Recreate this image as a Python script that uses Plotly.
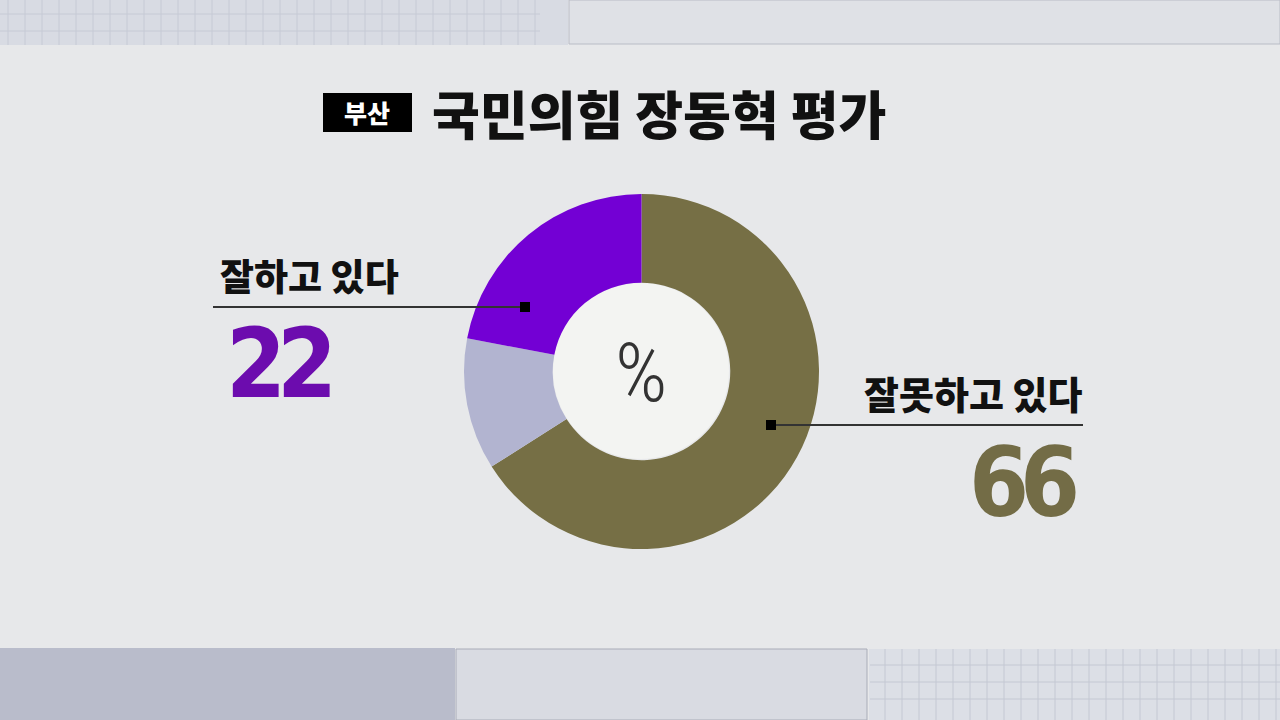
import plotly.graph_objects as go

# 부산 국민의힘 장동혁 평가 (%)
labels = ['잘못하고 있다', '모름/무응답', '잘하고 있다']
values = [66, 12, 22]
colors = ['#766f45', '#b2b4d0', '#7300d4']

W, H = 1280, 720


def px(x):
    return x / W


def py_(y):
    return 1 - y / H


fig = go.Figure()

fig.add_trace(go.Pie(
    labels=labels,
    values=values,
    marker=dict(colors=colors, line=dict(width=0)),
    hole=0.5,
    sort=False,
    direction='clockwise',
    rotation=0,
    textinfo='none',
    hoverinfo='label+value',
    showlegend=False,
    domain=dict(x=[px(464), px(819)], y=[py_(549), py_(194)]),
))

shapes = []
# paper strips top / bottom
shapes.append(dict(type='rect', xref='paper', yref='paper', x0=0, x1=px(568), y0=py_(45), y1=1,
                   fillcolor='#d8dbe3', line=dict(width=0), layer='below'))
shapes.append(dict(type='rect', xref='paper', yref='paper', x0=px(569), x1=1, y0=py_(44), y1=1,
                   fillcolor='#dfe1e6', line=dict(color='#b9bcc6', width=1), layer='below'))
shapes.append(dict(type='rect', xref='paper', yref='paper', x0=0, x1=px(455), y0=0, y1=py_(648),
                   fillcolor='#b9bccb', line=dict(width=0), layer='below'))
shapes.append(dict(type='rect', xref='paper', yref='paper', x0=px(456), x1=px(867), y0=0, y1=py_(649),
                   fillcolor='#d9dbe2', line=dict(color='#a9acb8', width=1), layer='below'))
shapes.append(dict(type='rect', xref='paper', yref='paper', x0=px(869), x1=1, y0=0, y1=py_(649),
                   fillcolor='#dcdfe6', line=dict(width=0), layer='below'))
# grid paper lines
for gx in range(8, 540, 17):
    shapes.append(dict(type='line', xref='paper', yref='paper', x0=px(gx), x1=px(gx), y0=py_(45), y1=1,
                       line=dict(color='#c6cad5', width=1), layer='below'))
for gy in [14, 31]:
    shapes.append(dict(type='line', xref='paper', yref='paper', x0=0, x1=px(540), y0=py_(gy), y1=py_(gy),
                       line=dict(color='#c6cad5', width=1), layer='below'))
for gx in range(885, 1280, 17):
    shapes.append(dict(type='line', xref='paper', yref='paper', x0=px(gx), x1=px(gx), y0=0, y1=py_(649),
                       line=dict(color='#c4c8d3', width=1), layer='below'))
for gy in [665, 682, 699]:
    shapes.append(dict(type='line', xref='paper', yref='paper', x0=px(870), x1=1, y0=py_(gy), y1=py_(gy),
                       line=dict(color='#c4c8d3', width=1), layer='below'))
# title box
shapes.append(dict(type='rect', xref='paper', yref='paper', x0=px(323), x1=px(412), y0=py_(132), y1=py_(93),
                   fillcolor='#000000', line=dict(width=0)))
# leader lines and markers
shapes.append(dict(type='line', xref='paper', yref='paper', x0=px(213), x1=px(525), y0=py_(307), y1=py_(307),
                   line=dict(color='#333333', width=2)))
shapes.append(dict(type='rect', xref='paper', yref='paper', x0=px(520), x1=px(530), y0=py_(312), y1=py_(302),
                   fillcolor='#000000', line=dict(width=0)))
shapes.append(dict(type='line', xref='paper', yref='paper', x0=px(771), x1=px(1083), y0=py_(425), y1=py_(425),
                   line=dict(color='#333333', width=2)))
shapes.append(dict(type='rect', xref='paper', yref='paper', x0=px(766), x1=px(776), y0=py_(430), y1=py_(420),
                   fillcolor='#000000', line=dict(width=0)))

kr = 'Noto Sans CJK KR Black, Noto Sans CJK KR'
num = 'DejaVu Sans Condensed, DejaVu Sans'
squeeze = '<span style="font-stretch:condensed;letter-spacing:-9px">{}</span>'

annotations = [
    dict(text='부산', x=px(367), y=py_(112), font=dict(family=kr, size=25, color='white', weight=900),
         xanchor='center', yanchor='middle'),
    dict(text='국민의힘 장동혁 평가', x=px(430), y=py_(112), font=dict(family=kr, size=52, color='#111111', weight=900),
         xanchor='left', yanchor='middle'),
    dict(text=labels[2], x=px(218), y=py_(275), font=dict(family=kr, size=37, color='#111111', weight=900),
         xanchor='left', yanchor='middle'),
    dict(text=squeeze.format(values[2]), x=px(224), y=py_(364),
         font=dict(family=num, size=96, color='#6c0cae', weight=700),
         xanchor='left', yanchor='middle'),
    dict(text=labels[0], x=px(1085), y=py_(393), font=dict(family=kr, size=38, color='#111111', weight=900),
         xanchor='right', yanchor='middle'),
    dict(text=squeeze.format(values[0]), x=px(1078), y=py_(483),
         font=dict(family=num, size=96, color='#736c46', weight=700),
         xanchor='right', yanchor='middle'),
    dict(text='<span style="font-stretch:condensed">%</span>', x=px(641), y=py_(373),
         font=dict(family='Roboto', size=82, color='#333333', weight=300),
         xanchor='center', yanchor='middle'),
]
for a in annotations:
    a.update(xref='paper', yref='paper', showarrow=False)

fig.update_layout(
    width=W, height=H,
    margin=dict(l=0, r=0, t=0, b=0),
    paper_bgcolor='#e7e8ea',
    plot_bgcolor='#e7e8ea',
    shapes=shapes,
    annotations=annotations,
)

# donut hole fill
fig.add_shape(type='circle', xref='paper', yref='paper', x0=px(553), x1=px(729), y0=py_(459), y1=py_(283),
              fillcolor='#f3f4f2', line=dict(width=0), layer='below')

fig.write_html('out.html', config={'displayModeBar': False},
               post_script="document.body.style.margin='0';")
